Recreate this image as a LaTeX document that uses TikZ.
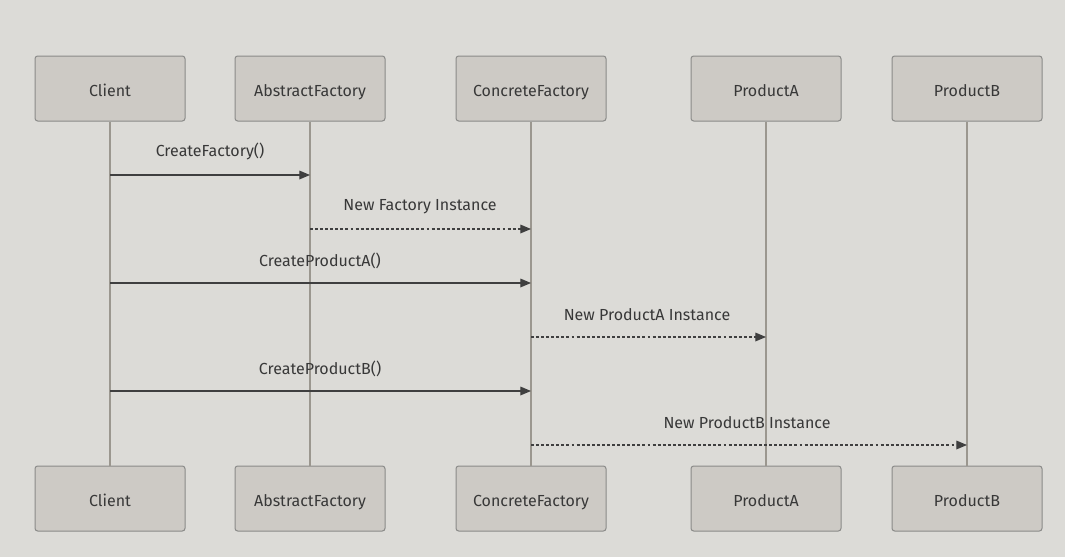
\documentclass[tikz,border=0pt]{standalone}
\usepackage{fontspec}
\setmainfont{Fira Sans}
\usetikzlibrary{positioning,arrows.meta}

\definecolor{bgcol}{HTML}{DCDBD7}
\definecolor{boxcol}{HTML}{CDCAC5}
\definecolor{boxline}{HTML}{8A8A88}
\definecolor{lifecol}{HTML}{9B978F}
\definecolor{msgcol}{HTML}{3F3F3F}
\definecolor{txtcol}{HTML}{383838}

\begin{document}
\begin{tikzpicture}[x=0.75pt, y=-0.75pt, font=\fontsize{12}{14}\selectfont]
    \tikzstyle{actor} = [rectangle, draw=boxline, fill=boxcol, rounded corners=2pt,
        minimum width=112.5pt, minimum height=48.75pt, text=txtcol, line width=0.75pt,
        text height=2.6ex, text depth=0.3ex]
    \tikzstyle{life} = [draw=lifecol, line width=1.5pt]
    \tikzstyle{msg} = [draw=msgcol, line width=0.9pt, -{Triangle[length=8pt,width=6.5pt]}]
    \tikzstyle{reply} = [msg, dash pattern=on 2.2pt off 1.6pt]
    \tikzstyle{label} = [text=txtcol, inner sep=0pt]

    % canvas
    \fill[bgcol] (0,0) rectangle (1065,557);
    \useasboundingbox (0,0) rectangle (1065,557);

    % participants on top
    \node[actor] (client) at (110,88.5) {Client};
    \node[actor, right=36.75pt of client] (abstract) {AbstractFactory};
    \node[actor, right=52.5pt of abstract] (concrete) {ConcreteFactory};
    \node[actor, right=63pt of concrete] (proda) {ProductA};
    \node[actor, right=37.5pt of proda] (prodb) {ProductB};
    % participants below
    \node[actor, below=258pt of client] (clientb) {Client};
    \node[actor, below=258pt of abstract] (abstractb) {AbstractFactory};
    \node[actor, below=258pt of concrete] (concreteb) {ConcreteFactory};
    \node[actor, below=258pt of proda] (prodab) {ProductA};
    \node[actor, below=258pt of prodb] (prodbb) {ProductB};

    % lifelines
    \draw[life] (client) -- (clientb);
    \draw[life] (abstract) -- (abstractb);
    \draw[life] (concrete) -- (concreteb);
    \draw[life] (proda) -- (prodab);
    \draw[life] (prodb) -- (prodbb);

    % messages
    \draw[msg] (client |- 0,175) -- (abstract |- 0,175);
    \node[label] (m1) at (210,151.5) {CreateFactory()};
    \draw[reply] (abstract |- 0,229) -- (concrete |- 0,229);
    \node[label] (m2) at (420,206.5) {New Factory Instance};
    \draw[msg] (client |- 0,283) -- (concrete |- 0,283);
    \node[label] (m3) at (320,260.5) {CreateProductA()};
    \draw[reply] (concrete |- 0,337) -- (proda |- 0,337);
    \node[label] (m4) at (647,314.5) {New ProductA Instance};
    \draw[msg] (client |- 0,391) -- (concrete |- 0,391);
    \node[label] (m5) at (320,368.5) {CreateProductB()};
    \draw[reply] (concrete |- 0,445) -- (prodb |- 0,445);
    \node[label] (m6) at (747,422.5) {New ProductB Instance};
\end{tikzpicture}
\end{document}
